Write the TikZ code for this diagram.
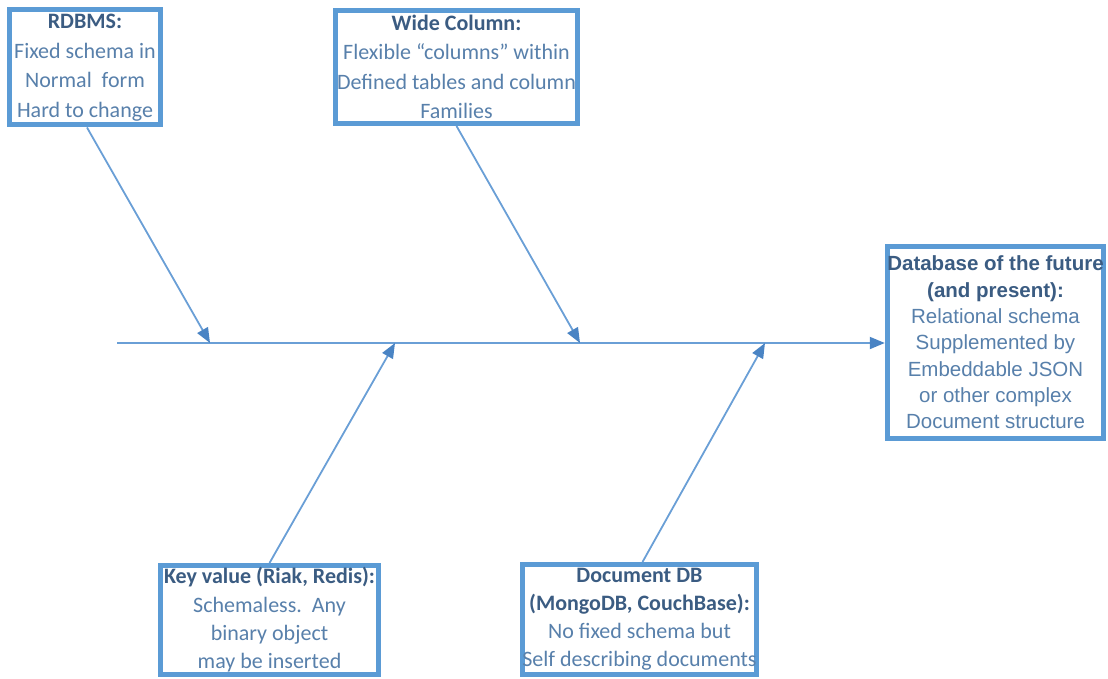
\documentclass[tikz,border=0pt]{standalone}
\usepackage{fontspec}
\setmainfont{Carlito}
\newfontfamily\arialf{Liberation Sans}
\usetikzlibrary{arrows.meta}
\definecolor{boxblue}{HTML}{5B9BD5}
\definecolor{lineblue}{HTML}{6A9FD6}
\definecolor{tipblue}{HTML}{4A84C4}
\definecolor{titletext}{HTML}{3B5C82}
\definecolor{bodytext}{HTML}{5880AB}
\newcommand\boxtitle[1]{{\color{titletext}\bfseries #1}}
\begin{document}
\begin{tikzpicture}[x=1pt,y=-1pt,
  box/.style={draw=boxblue, line width=5pt, fill=white, align=center, inner sep=0pt,
    text=bodytext, font=\fontsize{22}{29.5}\selectfont},
  lowbox/.style={box, font=\fontsize{22}{28.3}\selectfont},
  rbox/.style={draw=boxblue, line width=5pt, fill=white, align=center, inner sep=0pt,
    text=bodytext, font=\arialf\fontsize{20.5}{26.3}\selectfont},
  arr/.style={draw=lineblue, line width=1.8pt, -{Triangle[length=15pt,width=12pt,color=tipblue]}}
]
\useasboundingbox (0,0) rectangle (1108,679);
\node[box, minimum width=151pt, minimum height=115pt] (rdbms) at (85,67.5)
  {\boxtitle{RDBMS:}\\Fixed schema in\\Normal\ \ form\\Hard to change};
\node[box, minimum width=242pt, minimum height=113pt] (wide) at (456.5,67)
  {\boxtitle{Wide Column:}\\Flexible “columns” within\\Defined tables and column\\Families};
\node[rbox, minimum width=214pt, minimum height=192pt] (future) at (995.5,342.5)
  {\boxtitle{Database of the future}\\\boxtitle{(and present):}\\Relational schema\\Supplemented by\\Embeddable JSON\\or other complex\\Document structure};
\node[lowbox, minimum width=218pt, minimum height=109pt] (keyv) at (269.5,620)
  {\boxtitle{Key value (Riak, Redis):}\\Schemaless.\ \ Any\\binary object\\may be inserted};
\node[lowbox, font=\fontsize{22}{28}\selectfont, minimum width=232pt, minimum height=110pt] (docdb) at (639.5,619.5)
  {\boxtitle{Document DB}\\\boxtitle{(MongoDB, CouchBase):}\\No fixed schema but\\Self describing documents};
\coordinate (tail) at (117,343);
\coordinate (j1) at (210,343);
\coordinate (j2) at (395,343);
\coordinate (j3) at (580,343);
\coordinate (j4) at (765,343);
\draw[arr] (tail) -- (tail -| future.west);
\draw[arr] ([xshift=2pt]rdbms.south) -- (j1);
\draw[arr] (wide.south) -- (j3);
\draw[arr] (keyv.north) -- (j2);
\draw[arr] ([xshift=3pt]docdb.north) -- (j4);
\end{tikzpicture}
\end{document}
